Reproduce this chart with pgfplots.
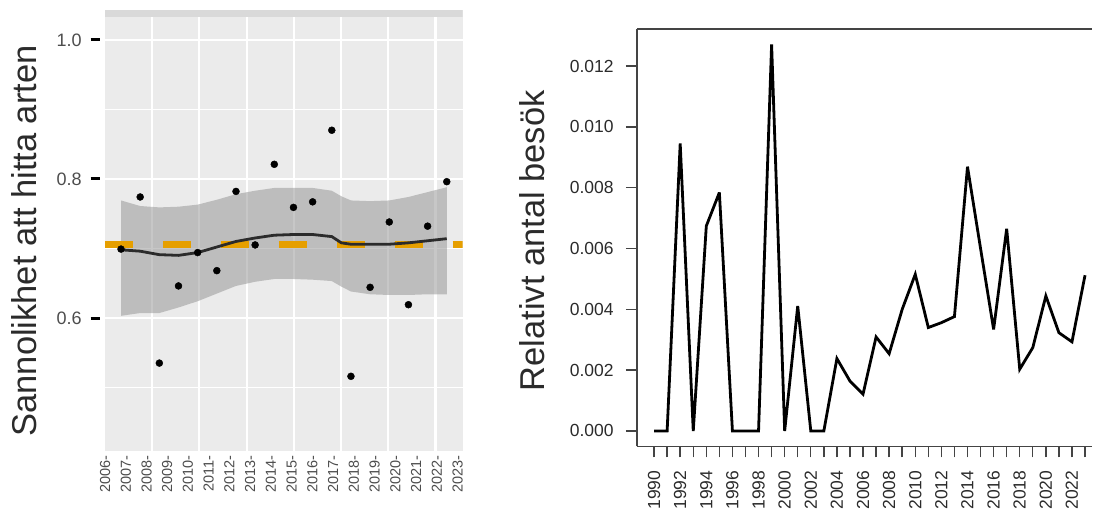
\documentclass[border=0pt]{standalone}
\usepackage{pgfplots}
\pgfplotsset{compat=1.18}
\usepackage{fontspec}
\setmainfont{Liberation Sans}
\definecolor{panelbg}{HTML}{EBEBEB}
\definecolor{stripbg}{HTML}{D9D9D9}
\definecolor{ggorange}{HTML}{E69F00}
\definecolor{txtgray}{HTML}{4D4D4D}
\definecolor{ribbon}{HTML}{999999}
\definecolor{dark}{HTML}{2B2B2B}
\definecolor{boxc}{HTML}{444444}
\newcommand\ylt[1]{\textcolor{txtgray}{#1}\kern9pt\rule[4.6pt]{9pt}{3pt}\kern5pt}
\newcommand\xtl[1]{#1-\kern5pt}

\pgfplotstableread{
year val
2006 0.699
2007 0.774
2008 0.535
2009 0.646
2010 0.694
2011 0.668
2012 0.782
2013 0.705
2014 0.821
2015 0.759
2016 0.767
2017 0.870
2018 0.516
2019 0.644
2020 0.738
2021 0.619
2022 0.732
2023 0.796
}\ptstab

\pgfplotstableread{
year fit
2006 0.698
2007 0.696
2008 0.691
2009 0.690
2010 0.694
2011 0.702
2012 0.710
2013 0.715
2014 0.719
2015 0.720
2016 0.720
2017 0.717
2017.5 0.708
2018 0.706
2019 0.706
2020 0.706
2021 0.708
2022 0.711
2023 0.714
}\fittab

% confidence band: upper edge left to right, then lower edge right to left
\pgfplotstableread{
year band
2006 0.769
2007 0.761
2008 0.759
2009 0.760
2010 0.763
2011 0.770
2012 0.778
2013 0.783
2014 0.787
2015 0.787
2016 0.787
2017 0.783
2017.5 0.775
2018 0.769
2019 0.768
2020 0.769
2021 0.774
2022 0.781
2023 0.788
2023 0.634
2022 0.634
2021 0.633
2020 0.633
2019 0.634
2018 0.638
2017.5 0.645
2017 0.653
2016 0.655
2015 0.656
2014 0.656
2013 0.652
2012 0.646
2011 0.635
2010 0.624
2009 0.615
2008 0.607
2007 0.607
2006 0.603
}\bandtab

\pgfplotstableread{
year rel
1990 0
1991 0
1992 0.00945
1993 0
1994 0.00674
1995 0.00784
1996 0
1997 0
1998 0
1999 0.01271
2000 0
2001 0.00411
2002 0
2003 0
2004 0.00238
2005 0.00164
2006 0.00121
2007 0.00309
2008 0.00254
2009 0.00400
2010 0.00515
2011 0.00340
2012 0.00356
2013 0.00376
2014 0.00869
2015 0.00600
2016 0.00334
2017 0.00665
2018 0.00203
2019 0.00274
2020 0.00444
2021 0.00323
2022 0.00293
2023 0.00512
}\besoktab

\begin{document}
\begin{tikzpicture}
\path (0pt,0pt) rectangle (1093pt,-506pt);

% ---------------- left panel ----------------
\begin{axis}[
  at={(105pt,-451pt)}, anchor=south west,
  scale only axis, width=358pt, height=441pt,
  xmin=2005.16, xmax=2023.83, ymin=0.409, ymax=1.043,
  axis background/.style={fill=panelbg},
  axis line style={draw=none},
  major tick length=0pt, minor tick length=0pt,
  xtick={2005.166,2006.248,2007.331,2008.413,2009.496,2010.578,2011.660,2012.743,2013.825,2014.908,2015.990,2017.072,2018.155,2019.237,2020.320,2021.402,2022.484,2023.567},
  xticklabels={\xtl{2006},\xtl{2007},\xtl{2008},\xtl{2009},\xtl{2010},\xtl{2011},\xtl{2012},\xtl{2013},\xtl{2014},\xtl{2015},\xtl{2016},\xtl{2017},\xtl{2018},\xtl{2019},\xtl{2020},\xtl{2021},\xtl{2022},\xtl{2023}},
  xticklabel style={rotate=90, anchor=east, inner sep=0pt, font=\fontsize{14.5}{16}\selectfont, text=txtgray},
  ytick={0.6,0.8,1.0},
  yticklabels={\ylt{0.6},\ylt{0.8},\ylt{1.0}},
  yticklabel style={anchor=east, inner sep=0pt, font=\fontsize{18}{20}\selectfont},
  minor ytick={0.5,0.7,0.9},
  ymajorgrids, yminorgrids,
  extra x ticks={2007.62,2010.07,2012.57,2015.02,2017.47,2019.92,2022.42},
  extra x tick labels={},
  extra x tick style={grid=major},
  major grid style={white, line width=2.4pt},
  minor grid style={white, line width=1.2pt},
  ylabel={Sannolikhet att hitta arten},
  ylabel style={at={(axis description cs:-0.19,0.476)}, anchor=base, font=\fontsize{34.5}{40}\selectfont, text=dark},
]
\addplot[fill=stripbg, draw=none] coordinates {(2005.16,1.033) (2023.83,1.033) (2023.83,1.043) (2005.16,1.043)} -- cycle;
\addplot[fill=ribbon, fill opacity=0.55, draw=none] table[x=year, y=band] {\bandtab} -- cycle;
\addplot[ggorange, line width=7pt, dash pattern=on 28pt off 30pt] coordinates {(2005.16,0.706) (2023.83,0.706)};
\addplot[dark, line width=2.8pt, no markers] table[x=year, y=fit] {\fittab};
\addplot[only marks, mark=*, mark size=3.5pt, black] table[x=year, y=val] {\ptstab};
\end{axis}

% ---------------- right panel ----------------
\begin{axis}[
  at={(637.3pt,-446.7pt)}, anchor=south west,
  scale only axis, width=455.7pt, height=417.4pt,
  xmin=1988.68, xmax=2023.55, ymin=-0.000508, ymax=0.013208,
  axis x line*=box, axis y line*=left,
  axis line style={boxc, line width=1.6pt, -},
  tick align=outside, xtick pos=lower, ytick pos=left,
  major tick length=11pt,
  tick style={boxc, line width=1.4pt},
  scaled y ticks=false,
  xtick={1990,...,2023},
  xticklabels={1990\kern13pt,,1992\kern13pt,,1994\kern13pt,,1996\kern13pt,,1998\kern13pt,,2000\kern13pt,,2002\kern13pt,,2004\kern13pt,,2006\kern13pt,,2008\kern13pt,,2010\kern13pt,,2012\kern13pt,,2014\kern13pt,,2016\kern13pt,,2018\kern13pt,,2020\kern13pt,,2022\kern13pt,},
  xticklabel style={rotate=90, anchor=east, inner sep=0pt, font=\fontsize{17.5}{20}\selectfont, text=dark},
  ytick={0,0.002,0.004,0.006,0.008,0.010,0.012},
  yticklabels={0.000,0.002,0.004,0.006,0.008,0.010,0.012},
  yticklabel style={anchor=east, inner sep=0pt, xshift=-12pt, font=\fontsize{17.5}{20}\selectfont, text=dark},
  ylabel={Relativt antal besök},
  ylabel style={at={(axis description cs:-0.2024,0.4928)}, anchor=base, font=\fontsize{34.5}{40}\selectfont, text=dark},
]
\addplot[black, line width=2.8pt, no markers, line join=miter, miter limit=4] table[x=year, y=rel] {\besoktab};
\end{axis}
\end{tikzpicture}
\end{document}
